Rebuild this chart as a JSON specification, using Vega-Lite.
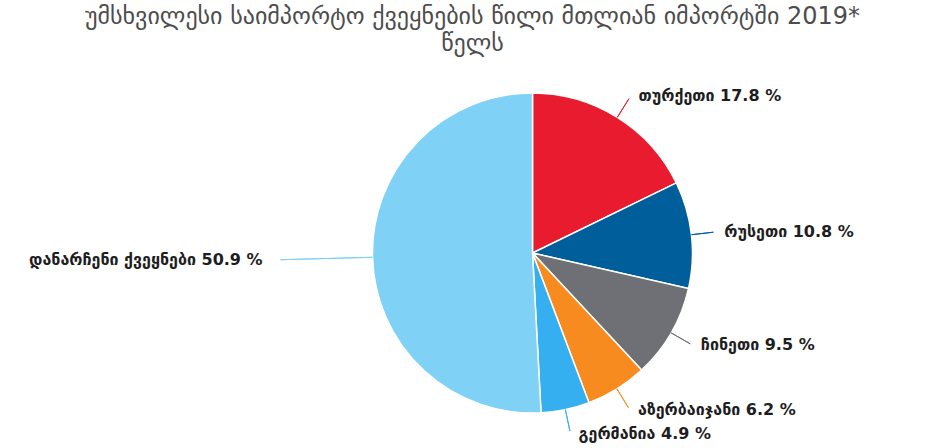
{
  "$schema": "https://vega.github.io/schema/vega-lite/v6.json",
  "autosize": "none",
  "width": 825,
  "height": 390,
  "padding": {"left": 120, "right": 0, "top": 58, "bottom": 0},
  "background": "white",
  "title": {
    "text": ["უმსხვილესი საიმპორტო ქვეყნების წილი მთლიან იმპორტში 2019*", "წელს"],
    "font": "DejaVu Sans",
    "fontSize": 24,
    "fontWeight": "normal",
    "color": "#4d4d4d",
    "anchor": "middle",
    "lineHeight": 27,
    "dx": -60,
    "offset": 2
  },
  "config": {"view": {"stroke": null}},
  "data": {
    "values": [
      {"country": "თურქეთი", "label": "თურქეთი 17.8 %", "value": 17.8, "order": 1},
      {"country": "რუსეთი", "label": "რუსეთი 10.8 %", "value": 10.8, "order": 2},
      {"country": "ჩინეთი", "label": "ჩინეთი 9.5 %", "value": 9.5, "order": 3},
      {"country": "აზერბაიჯანი", "label": "აზერბაიჯანი 6.2 %", "value": 6.2, "order": 4},
      {"country": "გერმანია", "label": "გერმანია 4.9 %", "value": 4.9, "order": 5},
      {"country": "დანარჩენი ქვეყნები", "label": "დანარჩენი ქვეყნები 50.9 %", "value": 50.9, "order": 6}
    ]
  },
  "transform": [
    {"stack": "value", "groupby": [], "sort": [{"field": "order", "order": "ascending"}], "as": ["start", "end"]}
  ],
  "layer": [
    {
      "mark": {"type": "arc", "stroke": "white", "strokeWidth": 1.5, "radius": 160},
      "encoding": {
        "theta": {"field": "start", "type": "quantitative", "stack": null, "scale": {"domain": [0, 100.1], "zero": true, "nice": false}},
        "theta2": {"field": "end"},
        "color": {
          "field": "country", "type": "nominal", "legend": null,
          "scale": {
            "domain": ["თურქეთი", "რუსეთი", "ჩინეთი", "აზერბაიჯანი", "გერმანია", "დანარჩენი ქვეყნები"],
            "range": ["#e81c2e", "#005f9a", "#6e7075", "#f78b1f", "#36aff0", "#7fd1f5"]
          }
        }
      }
    },
    {
      "transform": [
        {"fold": ["start", "end"], "as": ["k", "v"]},
        {"aggregate": [{"op": "mean", "field": "v", "as": "mid"}], "groupby": ["country", "label", "order"]},
        {"filter": "datum.order < 6"}
      ],
      "mark": {"type": "arc", "filled": false, "strokeWidth": 1, "radius": 182, "radius2": 160},
      "encoding": {
        "theta": {"field": "mid", "type": "quantitative", "stack": null, "scale": {"domain": [0, 100.1], "zero": true, "nice": false}},
        "theta2": {"field": "mid"},
        "stroke": {
          "field": "country", "type": "nominal", "legend": null,
          "scale": {
            "domain": ["თურქეთი", "რუსეთი", "ჩინეთი", "აზერბაიჯანი", "გერმანია", "დანარჩენი ქვეყნები"],
            "range": ["#e81c2e", "#005f9a", "#6e7075", "#f78b1f", "#36aff0", "#7fd1f5"]
          }
        }
      }
    },
    {
      "transform": [
        {"fold": ["start", "end"], "as": ["k", "v"]},
        {"aggregate": [{"op": "mean", "field": "v", "as": "mid"}], "groupby": ["country", "label", "order"]},
        {"filter": "datum.order == 6"}
      ],
      "mark": {"type": "arc", "filled": false, "strokeWidth": 1, "radius": 252, "radius2": 160},
      "encoding": {
        "theta": {"field": "mid", "type": "quantitative", "stack": null, "scale": {"domain": [0, 100.1], "zero": true, "nice": false}},
        "theta2": {"field": "mid"},
        "stroke": {
          "field": "country", "type": "nominal", "legend": null,
          "scale": {
            "domain": ["თურქეთი", "რუსეთი", "ჩინეთი", "აზერბაიჯანი", "გერმანია", "დანარჩენი ქვეყნები"],
            "range": ["#e81c2e", "#005f9a", "#6e7075", "#f78b1f", "#36aff0", "#7fd1f5"]
          }
        }
      }
    },
    {
      "transform": [
        {"fold": ["start", "end"], "as": ["k", "v"]},
        {"aggregate": [{"op": "mean", "field": "v", "as": "mid"}], "groupby": ["country", "label", "order"]},
        {"filter": "datum.order < 6"}
      ],
      "mark": {"type": "text", "radius": 185, "align": "left", "baseline": "middle", "dx": 8, "font": "DejaVu Sans", "fontWeight": "bold", "fontSize": 16, "color": "#1e1e1e"},
      "encoding": {
        "theta": {"field": "mid", "type": "quantitative", "stack": null, "scale": {"domain": [0, 100.1], "zero": true, "nice": false}},
        "text": {"field": "label", "type": "nominal"}
      }
    },
    {
      "transform": [
        {"fold": ["start", "end"], "as": ["k", "v"]},
        {"aggregate": [{"op": "mean", "field": "v", "as": "mid"}], "groupby": ["country", "label", "order"]},
        {"filter": "datum.order == 6"}
      ],
      "mark": {"type": "text", "radius": 262, "align": "right", "baseline": "middle", "dx": -8, "font": "DejaVu Sans", "fontWeight": "bold", "fontSize": 16, "color": "#1e1e1e"},
      "encoding": {
        "theta": {"field": "mid", "type": "quantitative", "stack": null, "scale": {"domain": [0, 100.1], "zero": true, "nice": false}},
        "text": {"field": "label", "type": "nominal"}
      }
    }
  ]
}
